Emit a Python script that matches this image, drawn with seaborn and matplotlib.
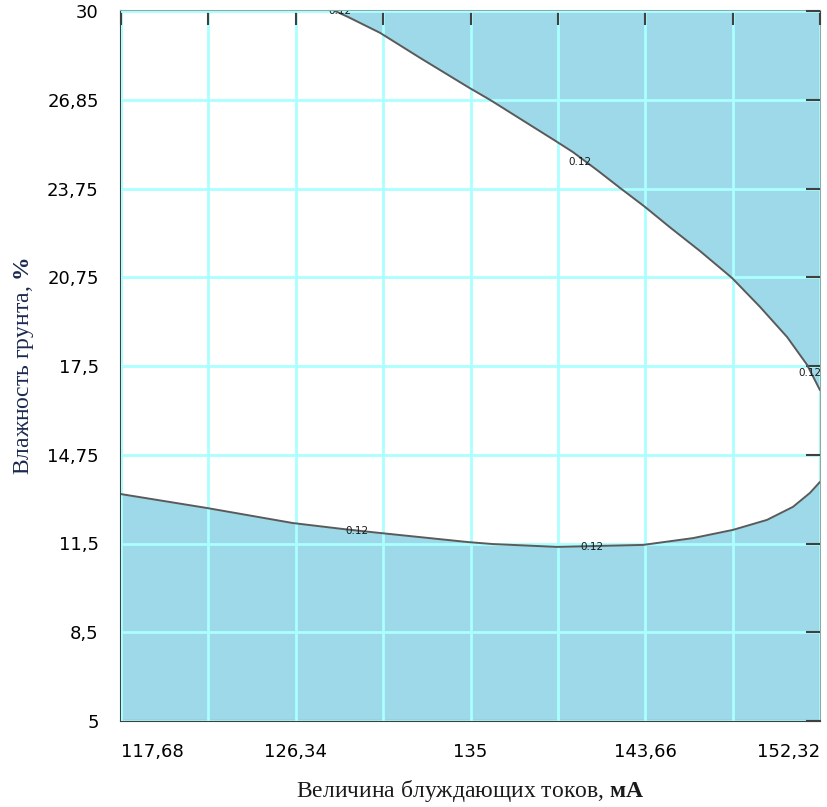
import matplotlib
matplotlib.use('Agg')
import matplotlib.pyplot as plt
import seaborn as sns

# 1. Data
# boundary of the 0.12 level, upper branch (blue above it)
upper_x = [128.29, 128.93, 130.52, 132.50, 134.88, 135.97, 139.29, 140.08,
           141.27, 142.41, 143.65, 144.89, 146.37, 147.96, 149.35, 150.69,
           151.68, 152.32]
upper_y = [30.00, 29.79, 29.23, 28.35, 27.32, 26.87, 25.39, 25.03,
           24.40, 23.77, 23.10, 22.38, 21.55, 20.60, 19.58, 18.52,
           17.54, 16.65]

# lower branch (blue below it)
lower_x = [117.68, 121.94, 126.20, 128.68, 130.52, 134.88, 136.12,
           139.29, 143.55, 146.03, 148.01, 149.69, 150.98, 151.82, 152.32]
lower_y = [12.99, 12.50, 11.97, 11.76, 11.62, 11.30, 11.23,
           11.13, 11.20, 11.44, 11.73, 12.08, 12.54, 13.03, 13.42]

# contour labels
label_x = [128.53, 140.43, 151.83, 117.10, 129.38, 141.02]
label_y = [30.00, 24.68, 17.25, 13.13, 11.69, 11.13]
label_txt = ['0.12', '0.12', '0.12', '0.12', '0.12', '0.12']

x_ticks = [117.68, 122.01, 126.34, 130.67, 135.0, 139.33, 143.66, 147.99, 152.32]
x_labels = ['117,68', '', '126,34', '', '135', '', '143,66', '', '152,32']
y_ticks = [5, 8.125, 11.25, 14.375, 17.5, 20.625, 23.75, 26.875, 30]
y_labels = ['5', '8,5', '11,5', '14,75', '17,5', '20,75', '23,75', '26,85', '30']

blue = '#9dd9e8'
grid_c = '#aaffff'

# 2. Style
sns.set_style('white')
plt.rcParams['font.family'] = ['DejaVu Sans']
plt.rcParams['mathtext.fontset'] = 'custom'
plt.rcParams['mathtext.rm'] = 'Liberation Serif'
plt.rcParams['mathtext.bf'] = 'Liberation Serif:bold'

fig = plt.figure(figsize=(8.27, 8.07), dpi=100)
ax = fig.add_axes([121 / 827, 1 - 721 / 807, 699 / 827, 710 / 807])
ax.set_facecolor('white')

# 3. Filled regions and the level line
ax.fill_between(upper_x, upper_y, y_ticks[-1], color=blue, lw=0, zorder=1)
ax.fill_between(lower_x, lower_y, y_ticks[0], color=blue, lw=0, zorder=1)

sns.lineplot(x=upper_x, y=upper_y, sort=False, color='#5a5a5a', lw=1.4, ax=ax, zorder=3)
sns.lineplot(x=lower_x, y=lower_y, sort=False, color='#5a5a5a', lw=1.4, ax=ax, zorder=3)

for lx, ly, t in zip(label_x, label_y, label_txt):
    ax.text(lx, ly, t, fontsize=7.5, color='#1a1a1a', ha='center', va='center',
            zorder=4, clip_on=True)

# 4. Axes, ticks, grid
ax.set_xlim(x_ticks[0], x_ticks[-1])
ax.set_ylim(y_ticks[0], y_ticks[-1])
ax.set_xticks(x_ticks)
ax.set_xticklabels(x_labels)
ax.set_yticks(y_ticks)
ax.set_yticklabels(y_labels)
ax.get_xticklabels()[0].set_ha('left')
ax.get_xticklabels()[-1].set_ha('right')

ax.set_axisbelow(False)
ax.grid(True, color=grid_c, lw=2)
ax.tick_params(direction='in', length=10, width=1.5, colors='#404040',
               top=True, right=True, labelsize=13, pad=16, labelcolor='black')

for s in ['left', 'bottom']:
    ax.spines[s].set_color('#404040')
    ax.spines[s].set_linewidth(1.5)
for s in ['top', 'right']:
    ax.spines[s].set_color('#8fa8a8')
    ax.spines[s].set_linewidth(1.5)

ax.set_xlabel(r'Величина блуждающих токов, $\mathbf{мА}$',
              fontfamily='Liberation Serif', fontsize=17, color='#1a1a1a', labelpad=12)
ax.set_ylabel(r'Влажность грунта, $\mathbf{\%}$',
              fontfamily='Liberation Serif', fontsize=17, color='#1c2a4f', labelpad=8)

fig.savefig('out.png', dpi=100)
